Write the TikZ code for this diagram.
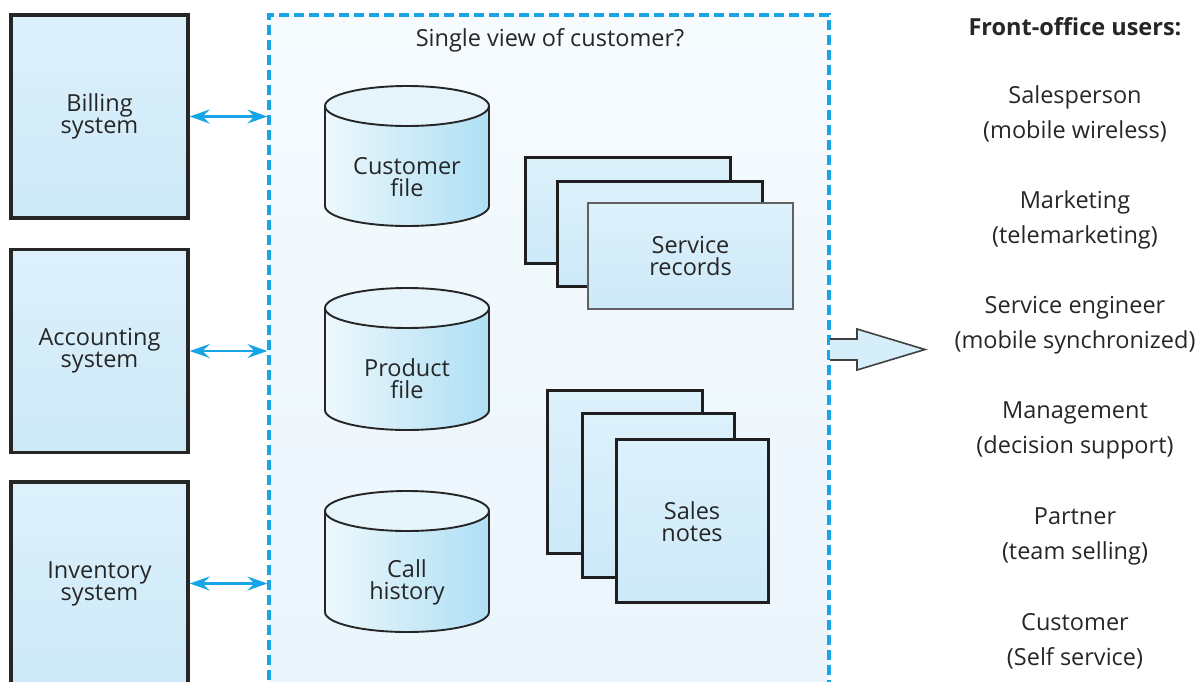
\documentclass[tikz,border=0pt]{standalone}
\usepackage{fontspec}
\setmainfont{Open Sans}
\usetikzlibrary{arrows.meta}

\definecolor{txt}{HTML}{262626}
\definecolor{linkblue}{HTML}{18A5E6}
\definecolor{boxtop}{HTML}{DDF1FB}
\definecolor{boxbot}{HTML}{CDE9F8}
\definecolor{paneltop}{HTML}{F6FBFE}
\definecolor{panelbot}{HTML}{EAF5FC}
\definecolor{drumtop}{HTML}{E6F4FB}
\definecolor{cylA}{HTML}{DDF1FA}
\definecolor{cylB}{HTML}{CDEBF8}
\definecolor{cylC}{HTML}{A3DBF4}
\definecolor{cylD}{HTML}{C9EAF8}
\definecolor{arrowfill}{HTML}{D6EEFA}

\pgfdeclarehorizontalshading{cylshade}{100bp}{%
  color(0bp)=(cylA); color(12bp)=(white); color(50bp)=(cylB);
  color(85bp)=(cylC); color(100bp)=(cylD)}

% database drum: name, centre x, top y, bottom y, label y, label
\newcommand\dbdrum[6]{%
  \path[shading=cylshade] (#2-82,#3) -- (#2-82,#4)
    arc[start angle=180,end angle=360,x radius=82pt,y radius=20pt]
    -- (#2+82,#3)
    arc[start angle=0,end angle=180,x radius=82pt,y radius=20pt] -- cycle;
  \draw[drumline] (#2-82,#3) -- (#2-82,#4)
    arc[start angle=180,end angle=360,x radius=82pt,y radius=20pt]
    -- (#2+82,#3);
  \filldraw[drumline,fill=drumtop] (#2,#3) ellipse[x radius=82pt,y radius=20pt];
  \node[lbl] (#1) at (#2,#5) {#6};
}

\begin{document}
\begin{tikzpicture}[x=1pt,y=-1pt,
  lbl/.style={font=\fontsize{23.5}{22}\selectfont,text=txt,align=center,inner sep=0pt},
  userlbl/.style={font=\fontsize{23.5}{35}\selectfont,text=txt,align=center,inner sep=0pt},
  sysbox/.style={draw=black!85,line width=3.4pt,top color=boxtop,bottom color=boxbot,
    minimum width=177pt,minimum height=203pt,inner sep=0pt,
    font=\fontsize{23.5}{22}\selectfont,text=txt,align=center},
  panelbox/.style={draw=linkblue,line width=3.2pt,dash pattern=on 10pt off 5pt,
    top color=paneltop,bottom color=panelbot,
    minimum width=560pt,minimum height=685pt,inner sep=0pt},
  docsheet/.style={draw=black!88,line width=3pt,top color=boxtop,bottom color=boxbot,
    inner sep=0pt},
  drumline/.style={draw=black!85,line width=1.9pt},
  link/.style={linkblue,line width=2.2pt,
    arrows={Stealth[length=20pt,width=14pt,inset=7pt]-Stealth[length=20pt,width=14pt,inset=7pt]}},
  bigarrow/.style={draw=black!75,line width=1.6pt,line join=miter}
]
\useasboundingbox (0,0) rectangle (1203,681);
\clip (0,0) rectangle (1203,681);

% shared customer view panel
\node[panelbox] (view) at (549,357.5) {};
\node[lbl] (title) at (550,40) {Single view of customer?};

% back-office systems
\node[sysbox] (bill) at (99.5,116.5) {Billing\\system};
\node[sysbox] (acct) at (99.5,351) {Accounting\\system};
\node[sysbox] (inv)  at (99.5,583.5) {Inventory\\system};

\draw[link] (bill.east) -- (bill.east -| view.west);
\draw[link] (acct.east) -- (acct.east -| view.west);
\draw[link] (inv.east)  -- (inv.east -| view.west);

% data stores
\dbdrum{custfile}{407}{106}{206}{177}{Customer\\file}
\dbdrum{prodfile}{407}{308}{410}{379}{Product\\file}
\dbdrum{callhist}{407}{511}{612}{582}{Call\\history}

% service records stack
\node[docsheet,minimum width=205pt,minimum height=106pt] (sr1) at (627.5,210) {};
\node[docsheet,minimum width=205pt,minimum height=105pt] (sr2) at (659.5,233.5) {};
\node[docsheet,draw=black!62,line width=2.6pt,minimum width=205pt,minimum height=106pt] (sr3) at (690.5,256) {};
\node[lbl] (srlbl) at (sr3.center) {Service\\records};

% sales notes stack
\node[docsheet,minimum width=155pt,minimum height=163pt] (sn1) at (624.5,471.5) {};
\node[docsheet,minimum width=152pt,minimum height=164pt] (sn2) at (658,495) {};
\node[docsheet,minimum width=152pt,minimum height=163pt] (sn3) at (692,520.5) {};
\node[lbl] (snlbl) at (692,522) {Sales\\notes};

% output arrow towards the users
\fill[arrowfill] (830,339) -- (857,339) -- (857,329) -- (925,349.5)
  -- (857,370) -- (857,360) -- (830,360) -- cycle;
\draw[bigarrow] (830,339) -- (857,339) -- (857,329) -- (925,349.5)
  -- (857,370) -- (857,360) -- (830,360);

% front-office users
\node[lbl,font=\fontsize{23.5}{22}\selectfont\bfseries] (users) at (1075,27) {Front-office users:};
\node[userlbl] (u1) at (1075,114) {Salesperson\\(mobile wireless)};
\node[userlbl] (u2) at (1075,219.5) {Marketing\\(telemarketing)};
\node[userlbl] (u3) at (1075,325.5) {Service engineer\\(mobile synchronized)};
\node[userlbl] (u4) at (1075,430.5) {Management\\(decision support)};
\node[userlbl] (u5) at (1075,536) {Partner\\(team selling)};
\node[userlbl] (u6) at (1075,641.5) {Customer\\(Self service)};
\end{tikzpicture}
\end{document}
